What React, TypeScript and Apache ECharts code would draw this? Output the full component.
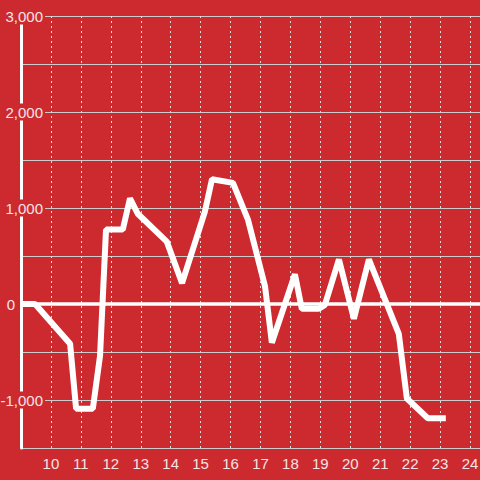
import React, { useEffect, useRef } from "react";
import * as echarts from "echarts";

const xValues = [9, 9.47, 10.64, 10.84, 11.4, 11.64, 11.84, 12.4, 12.64, 12.9, 13.87, 14.38, 15.14, 15.38, 16.08, 16.58, 17.15, 17.38, 18.15, 18.38, 18.95, 19.15, 19.62, 20.12, 20.62, 21.62, 21.89, 22.59, 23.19];
const yValues = [0, 0, -414, -1090, -1090, -540, 775, 775, 1100, 940, 650, 217, 960, 1300, 1262, 880, 186, -403, 310, -50, -50, -10, 465, -155, 465, -310, -985, -1190, -1190];
const yTickLabels = [-1000, 0, 1000, 2000, 3000];
const xTickLabels = [10, 11, 12, 13, 14, 15, 16, 17, 18, 19, 20, 21, 22, 23, 24];

const BG = "#cc2a2f";
const LABEL = "#f4e4e4";

export default function App() {
  const ref = useRef<HTMLDivElement>(null);
  useEffect(() => {
    document.body.style.margin = "0";
    const chart = echarts.init(ref.current!, null, { renderer: "svg" });
    const fmt = (v: number) => v.toLocaleString("en-US");
    chart.setOption({
      animation: false,
      backgroundColor: BG,
      textStyle: { fontFamily: "Liberation Sans, Arial, sans-serif" },
      grid: {
        left: 21,
        top: 16,
        right: -20,
        bottom: 32,
        containLabel: false,
        outerBoundsMode: "none",
      },
      xAxis: {
        type: "value",
        min: 9,
        max: 25,
        interval: 1,
        axisLine: { show: false },
        axisTick: { show: false },
        axisLabel: {
          color: LABEL,
          fontSize: 15,
          margin: 8,
          formatter: (v: number) => (xTickLabels.indexOf(v) >= 0 ? String(v) : ""),
        },
        splitLine: {
          show: true,
          lineStyle: { color: "#dddddd", width: 1, type: [2, 3] },
        },
      },
      yAxis: {
        type: "value",
        min: -1500,
        max: 3000,
        interval: 500,
        axisLine: { show: true, lineStyle: { color: "#ffffff", width: 3 } },
        axisTick: { show: false },
        axisLabel: {
          color: LABEL,
          fontSize: 15,
          margin: -24,
          formatter: (v: number) => {
            if (yTickLabels.indexOf(v) < 0) return "";
            if (v === 0) return "{z|0}{s| }";
            return "{a|" + fmt(v) + "}";
          },
          rich: {
            a: { backgroundColor: BG, padding: [1, 2, 1, 2], color: LABEL, fontSize: 15 },
            z: { backgroundColor: BG, padding: [1, 2, 1, 2], color: LABEL, fontSize: 15 },
            s: { width: 28, fontSize: 15 },
          },
        },
        splitLine: { show: true, lineStyle: { color: "#cccccc", width: 1 } },
      },
      series: [
        {
          type: "line",
          data: xValues.map((x, i) => [x, yValues[i]]),
          showSymbol: false,
          symbol: "none",
          lineStyle: { color: "#ffffff", width: 6 },
          z: 5,
          markLine: {
            silent: true,
            symbol: "none",
            label: { show: false },
            lineStyle: { color: "#ffffff", width: 3.5, type: "solid" },
            data: [{ yAxis: 0 }],
          },
        },
      ],
    });
    return () => chart.dispose();
  }, []);
  return <div ref={ref} style={{ width: 480, height: 480 }} />;
}
